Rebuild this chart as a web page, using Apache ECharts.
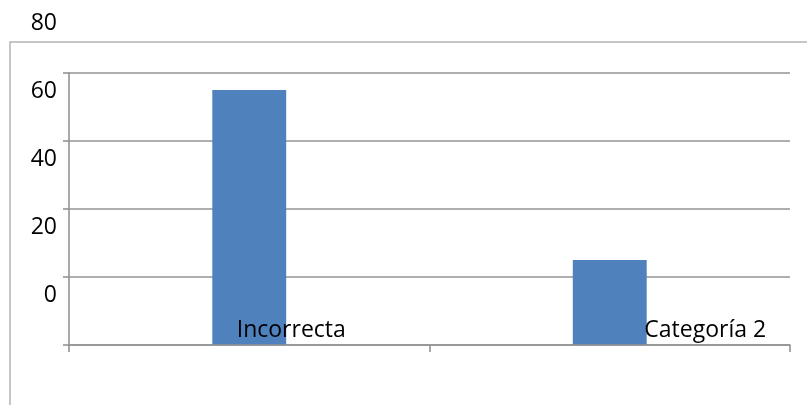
<!DOCTYPE html>
<html>
<head>
<meta charset="utf-8">
<script src="https://cdn.jsdelivr.net/npm/echarts@6/dist/echarts.min.js"></script>
<style>
  html, body { margin: 0; padding: 0; background: #ffffff; }
  #chart { width: 807px; height: 405px; }
</style>
</head>
<body>
<div id="chart"></div>
<script>
// Chart data
const categories = ['Incorrecta', 'Categoría 2'];
const values = [55, 5];

// Value axis scale
const yMin = -20;
const yMax = 60;
const yLabelMax = 80;
const yStep = 20;

const lineColor = '#939393';
const textFont = '"Open Sans", sans-serif';
const textSize = 23;

const chart = echarts.init(document.getElementById('chart'));

chart.setOption({
  animation: false,
  backgroundColor: '#ffffff',
  graphic: [{
    type: 'rect',
    shape: { x: 10, y: 42, width: 900, height: 500 },
    style: { fill: 'none', stroke: '#b4b4b4', lineWidth: 1.5 },
    z: 0
  }],
  grid: [
    // plot area: grid lines, axes and bars
    { left: 69, right: 17, top: 73, bottom: 60 },
    // tick label column, sharing the same scale
    { left: 69, right: 17, top: 5, bottom: 60 }
  ],
  xAxis: [{
    gridIndex: 0,
    type: 'category',
    data: categories,
    boundaryGap: true,
    axisLine: { show: true, onZero: false, lineStyle: { color: lineColor, width: 1.6 } },
    axisTick: { show: true, length: 7, alignWithLabel: false, lineStyle: { color: lineColor, width: 1.6 } },
    axisLabel: {
      interval: 0,
      margin: -15,
      verticalAlign: 'middle',
      align: 'center',
      color: '#000000',
      fontFamily: textFont,
      fontSize: textSize,
      formatter: (v, i) => '{p' + i + '|' + v + '}',
      rich: {
        p0: { padding: [0, 0, 0, 84], fontFamily: textFont, fontSize: textSize, color: '#000' },
        p1: { padding: [0, 0, 0, 191], fontFamily: textFont, fontSize: textSize, color: '#000' }
      }
    },
    splitLine: { show: false },
    z: 5
  }, {
    gridIndex: 1,
    type: 'category',
    data: categories,
    show: false
  }],
  yAxis: [{
    gridIndex: 0,
    type: 'value',
    min: yMin,
    max: yMax,
    interval: yStep,
    axisLine: { show: true, onZero: false, lineStyle: { color: lineColor, width: 1.6 } },
    axisTick: { show: true, length: 6, lineStyle: { color: lineColor, width: 1.6 } },
    axisLabel: { show: false },
    splitLine: { show: true, lineStyle: { color: lineColor, width: 1.6 } }
  }, {
    gridIndex: 1,
    type: 'value',
    min: yMin,
    max: yLabelMax,
    interval: yStep,
    axisLine: { show: false },
    axisTick: { show: false },
    splitLine: { show: false },
    axisLabel: {
      showMinLabel: false,
      margin: 12,
      verticalAlign: 'top',
      lineHeight: 37,
      color: '#000000',
      fontFamily: textFont,
      fontSize: textSize,
      formatter: v => String(v)
    }
  }],
  series: [{
    type: 'custom',
    xAxisIndex: 0,
    yAxisIndex: 0,
    data: categories.map((c, i) => [i, values[i]]),
    renderItem: function (params, api) {
      const top = api.coord([api.value(0), api.value(1)]);
      const base = api.coord([api.value(0), yMin]);
      const w = api.size([1, 0])[0] * 0.205;
      return {
        type: 'rect',
        shape: { x: top[0] - w / 2, y: top[1], width: w, height: base[1] - top[1] },
        style: { fill: '#4f81bd' }
      };
    },
    z: 3
  }]
});
</script>
</body>
</html>
